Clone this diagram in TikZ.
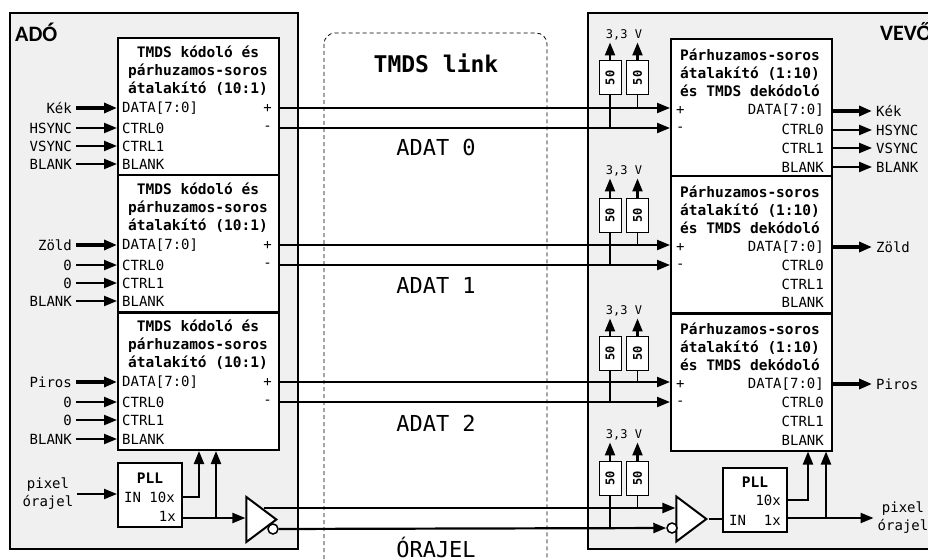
\documentclass[tikz,border=0pt]{standalone}
\usepackage{fontspec}
\setmonofont{DejaVu Sans Mono}
\setsansfont{Carlito}
\usepackage{xcolor}
\usetikzlibrary{positioning, arrows.meta, shapes.geometric, calc}
\definecolor{panelGray}{HTML}{F0F0F0}

\begin{document}
\begin{tikzpicture}[
  x=1pt, y=-1pt,
  every node/.style={font=\ttfamily\fontsize{14}{18}\selectfont, text=black},
  panelbox/.style={draw=black, line width=2pt, fill=panelGray},
  blockbox/.style={
    rectangle, draw=black, line width=2pt, fill=white,
    minimum width=161pt, minimum height=137pt, inner sep=0pt
  },
  pllbox/.style={
    rectangle, draw=black, line width=2pt, fill=white,
    minimum width=64pt, minimum height=64pt, inner sep=0pt
  },
  resbox/.style={
    rectangle, draw=black, line width=1pt, fill=white, rotate=90,
    minimum width=34pt, minimum height=22pt, inner sep=0pt,
    font=\ttfamily\bfseries\fontsize{12}{14}\selectfont
  },
  drvtri/.style={
    isosceles triangle, isosceles triangle stretches, draw=black, line width=2pt,
    fill=white, minimum width=45pt, minimum height=30pt, inner sep=0pt
  },
  bubble/.style={
    circle, draw=black, line width=1.5pt, fill=white,
    minimum size=10pt, inner sep=0pt
  },
  blocktitle/.style={font=\ttfamily\bfseries\fontsize{14.5}{18}\selectfont, inner sep=0pt},
  rowleft/.style={anchor=west, inner sep=0pt},
  rowright/.style={anchor=east, inner sep=0pt},
  sigin/.style={anchor=east, inner sep=4pt},
  sigout/.style={anchor=west, inner sep=4pt},
  volt/.style={font=\ttfamily\fontsize{12}{14}\selectfont, inner sep=2pt},
  linklabel/.style={font=\ttfamily\fontsize{22}{26}\selectfont},
  sidelabel/.style={font=\sffamily\bfseries\fontsize{22}{26}\selectfont, inner sep=0pt},
  wire/.style={line width=2.2pt, -{Triangle[length=13pt,width=10pt]}},
  buswire/.style={line width=4pt, -{Triangle[length=13pt,width=10pt]}},
  plainwire/.style={line width=2.2pt},
  stub/.style={line width=1.5pt},
]
\useasboundingbox (0,0) rectangle (928,559);
\clip (0,0) rectangle (928,559);

% === PANELS ===
\draw[panelbox] (10,13) rectangle (298,549);
\draw[panelbox] (588,13) rectangle (945,549);
\node[sidelabel, anchor=west] (ado) at (15,32) {ADÓ};
\node[sidelabel, anchor=west] (vevo) at (880,32) {VEVŐ};

% === LINK ===
\draw[line width=0.8pt, rounded corners=11pt, dash pattern=on 4pt off 3pt]
  (324,33) rectangle (547,600);
\node[font=\ttfamily\bfseries\fontsize{23}{26}\selectfont] (linkname) at (436,63) {TMDS link};
\node[linklabel] (adat0) at (436,147) {ADAT 0};
\node[linklabel] (adat1) at (436,285) {ADAT 1};
\node[linklabel] (adat2) at (436,423) {ADAT 2};
\node[linklabel] (orajel) at (436,547) {ÓRAJEL};

% === ENCODERS ===
\node[blockbox] (enc0) at (198.5,106.5) {};
\node[blockbox] (enc1) at (198.5,243.5) {};
\node[blockbox] (enc2) at (198.5,381.5) {};

% Encoder 0
\node[blocktitle, align=center] (tenc0) at (198,71) {TMDS kódoló és\\párhuzamos-soros\\átalakító (10:1)};
\node[rowleft] (ed0) at (122,108) {DATA[7:0]};
\node[rowleft] (ea0) at (122,128) {CTRL0};
\node[rowleft] (eb0) at (122,146) {CTRL1};
\node[rowleft] (ec0) at (122,164) {BLANK};
\node[rowright] (ep0) at (272,108) {+};
\node[rowright] (en0) at (272,128) {-};
\node[sigin] (kek0) at (76,108) {Kék};
\node[sigin] (hs0) at (76,128) {HSYNC};
\node[sigin] (vs0) at (76,146) {VSYNC};
\node[sigin] (bl0) at (76,164) {BLANK};
\draw[buswire] (kek0) -- (kek0 -| enc0.west);
\draw[wire] (hs0) -- (hs0 -| enc0.west);
\draw[wire] (vs0) -- (vs0 -| enc0.west);
\draw[wire] (bl0) -- (bl0 -| enc0.west);

% Encoder 1
\node[blocktitle, align=center] (tenc1) at (198,208) {TMDS kódoló és\\párhuzamos-soros\\átalakító (10:1)};
\node[rowleft] (ed1) at (122,245) {DATA[7:0]};
\node[rowleft] (ea1) at (122,265) {CTRL0};
\node[rowleft] (eb1) at (122,283) {CTRL1};
\node[rowleft] (ec1) at (122,301) {BLANK};
\node[rowright] (ep1) at (272,245) {+};
\node[rowright] (en1) at (272,265) {-};
\node[sigin] (zold1) at (76,245) {Zöld};
\node[sigin] (za1) at (76,265) {0};
\node[sigin] (zb1) at (76,283) {0};
\node[sigin] (bl1) at (76,301) {BLANK};
\draw[buswire] (zold1) -- (zold1 -| enc1.west);
\draw[wire] (za1) -- (za1 -| enc1.west);
\draw[wire] (zb1) -- (zb1 -| enc1.west);
\draw[wire] (bl1) -- (bl1 -| enc1.west);

% Encoder 2
\node[blocktitle, align=center] (tenc2) at (198,345) {TMDS kódoló és\\párhuzamos-soros\\átalakító (10:1)};
\node[rowleft] (ed2) at (122,382) {DATA[7:0]};
\node[rowleft] (ea2) at (122,402) {CTRL0};
\node[rowleft] (eb2) at (122,420) {CTRL1};
\node[rowleft] (ec2) at (122,439) {BLANK};
\node[rowright] (ep2) at (272,382) {+};
\node[rowright] (en2) at (272,402) {-};
\node[sigin] (piros2) at (76,382) {Piros};
\node[sigin] (pa2) at (76,402) {0};
\node[sigin] (pb2) at (76,420) {0};
\node[sigin] (bl2) at (76,439) {BLANK};
\draw[buswire] (piros2) -- (piros2 -| enc2.west);
\draw[wire] (pa2) -- (pa2 -| enc2.west);
\draw[wire] (pb2) -- (pb2 -| enc2.west);
\draw[wire] (bl2) -- (bl2 -| enc2.west);

% === DECODERS ===
\node[blockbox] (dec0) at (751.5,107.5) {};
\node[blockbox] (dec1) at (751.5,244.5) {};
\node[blockbox] (dec2) at (751.5,382) {};

% Decoder 0
\node[blocktitle, align=left, anchor=west] (tdec0) at (680,73) {Párhuzamos-soros\\átalakító (1:10)\\és TMDS dekódoló};
\node[rowleft] (dp0) at (676,110) {+};
\node[rowleft] (dn0) at (676,129) {-};
\node[rowright] (dd0) at (824,110) {DATA[7:0]};
\node[rowright] (da0) at (824,129) {CTRL0};
\node[rowright] (db0) at (824,148) {CTRL1};
\node[rowright] (dc0) at (824,167) {BLANK};
\node[sigout] (kek1) at (872,111) {Kék};
\node[sigout] (hs1) at (872,130) {HSYNC};
\node[sigout] (vs1) at (872,148) {VSYNC};
\node[sigout] (bl3) at (872,167) {BLANK};
\draw[buswire] (kek1 -| dec0.east) -- (kek1);
\draw[wire] (hs1 -| dec0.east) -- (hs1);
\draw[wire] (vs1 -| dec0.east) -- (vs1);
\draw[wire] (bl3 -| dec0.east) -- (bl3);

% Decoder 1
\node[blocktitle, align=left, anchor=west] (tdec1) at (680,210) {Párhuzamos-soros\\átalakító (1:10)\\és TMDS dekódoló};
\node[rowleft] (dp1) at (676,247) {+};
\node[rowleft] (dn1) at (676,266) {-};
\node[rowright] (dd1) at (824,247) {DATA[7:0]};
\node[rowright] (da1) at (824,265) {CTRL0};
\node[rowright] (db1) at (824,284) {CTRL1};
\node[rowright] (dc1) at (824,302) {BLANK};
\node[sigout] (zold2) at (872,247) {Zöld};
\draw[buswire] (zold2 -| dec1.east) -- (zold2);

% Decoder 2
\node[blocktitle, align=left, anchor=west] (tdec2) at (680,347) {Párhuzamos-soros\\átalakító (1:10)\\és TMDS dekódoló};
\node[rowleft] (dp2) at (676,384) {+};
\node[rowleft] (dn2) at (676,403) {-};
\node[rowright] (dd2) at (824,384) {DATA[7:0]};
\node[rowright] (da2) at (824,402) {CTRL0};
\node[rowright] (db2) at (824,421) {CTRL1};
\node[rowright] (dc2) at (824,440) {BLANK};
\node[sigout] (piros3) at (872,384) {Piros};
\draw[buswire] (piros3 -| dec2.east) -- (piros3);

% === DATA PAIRS ===
\draw[wire] (ep0 -| enc0.east) -- (ep0 -| dec0.west);
\draw[wire] (en0 -| enc0.east) -- (en0 -| dec0.west);
\draw[wire] (ep1 -| enc1.east) -- (ep1 -| dec1.west);
\draw[wire] (en1 -| enc1.east) -- (en1 -| dec1.west);
\draw[wire] (ep2 -| enc2.east) -- (ep2 -| dec2.west);
\draw[wire] (en2 -| enc2.east) -- (en2 -| dec2.west);

% === TERMINATORS ===
\node[resbox] (ra0) at (610,78) {50};
\node[resbox] (rb0) at (637.5,78) {50};
\node[volt] (v0) at (624,35) {3,3 V};
\draw[wire] (ra0.east) -- (ra0.east |- v0.south);
\draw[wire] (rb0.east) -- (rb0.east |- v0.south);
\draw[stub] (rb0.west) -- (rb0.west |- ep0);
\draw[plainwire] (ra0.west) -- (ra0.west |- en0);

\node[resbox] (ra1) at (610,215) {50};
\node[resbox] (rb1) at (637.5,215) {50};
\node[volt] (v1) at (624,171) {3,3 V};
\draw[wire] (ra1.east) -- (ra1.east |- v1.south);
\draw[wire] (rb1.east) -- (rb1.east |- v1.south);
\draw[stub] (rb1.west) -- (rb1.west |- ep1);
\draw[plainwire] (ra1.west) -- (ra1.west |- en1);

\node[resbox] (ra2) at (610,353) {50};
\node[resbox] (rb2) at (637.5,353) {50};
\node[volt] (v2) at (624,311) {3,3 V};
\draw[wire] (ra2.east) -- (ra2.east |- v2.south);
\draw[wire] (rb2.east) -- (rb2.east |- v2.south);
\draw[stub] (rb2.west) -- (rb2.west |- ep2);
\draw[plainwire] (ra2.west) -- (ra2.west |- en2);

\node[resbox] (ra3) at (610,478) {50};
\node[resbox] (rb3) at (637.5,478) {50};
\node[volt] (v3) at (624,435) {3,3 V};
\draw[wire] (ra3.east) -- (ra3.east |- v3.south);
\draw[wire] (rb3.east) -- (rb3.east |- v3.south);

% === CLOCK ===
\node[pllbox] (pll0) at (150,495) {};
\node[blocktitle] (tpll0) at (150,478) {PLL};
\node[rowleft] (in0) at (124,497) {IN 10x};
\node[rowright] (one0) at (176,516) {1x};
\node[sigin, align=center, anchor=center] (pix0) at (48,494) {pixel\\órajel};
\draw[wire] (pix0) -- (pix0 -| pll0.west);

\node[drvtri, anchor=apex] (txd) at (279,519.5) {};
\node[bubble] (txb) at (273,529) {};
\coordinate (txp) at (264,508);
\coordinate (t10) at (199,497);
\coordinate (t1) at (216,518);
\draw[wire] (pll0.east |- t10) -| (t10 |- enc2.south);
\draw[wire] (pll0.east |- t1) -- (txd.west |- t1);
\draw[wire] (t1) -- (t1 |- enc2.south);

\node[pllbox] (pll1) at (755,500) {};
\node[blocktitle] (tpll1) at (755,482) {PLL};
\node[rowright] (ten1) at (781,500) {10x};
\node[rowleft] (in1) at (729,520) {IN};
\node[rowright] (one1) at (781,520) {1x};
\node[sigout, align=center, anchor=center] (pix1) at (903,518) {pixel\\órajel};

\node[drvtri, anchor=apex] (rxd) at (709,519) {};
\node[bubble] (rxb) at (672,528) {};
\coordinate (r10) at (808,500);
\coordinate (r1) at (826,518);
\draw[plainwire] (rxd.apex) -- (rxd.apex -| pll1.west);
\draw[wire] (pll1.east |- r10) -| (r10 |- dec2.south);
\draw[wire] (pll1.east |- r1) -- (pix1);
\draw[wire] (r1) -- (r1 |- dec2.south);

\draw[wire] (txp) -- (txp -| rxd.west);
\draw[wire] (txb) -- (rxb);
\draw[stub] (rb3.west) -- (rb3.west |- txp);
\draw[plainwire] (ra3.west) -- (ra3.west |- txb);
\end{tikzpicture}
\end{document}
